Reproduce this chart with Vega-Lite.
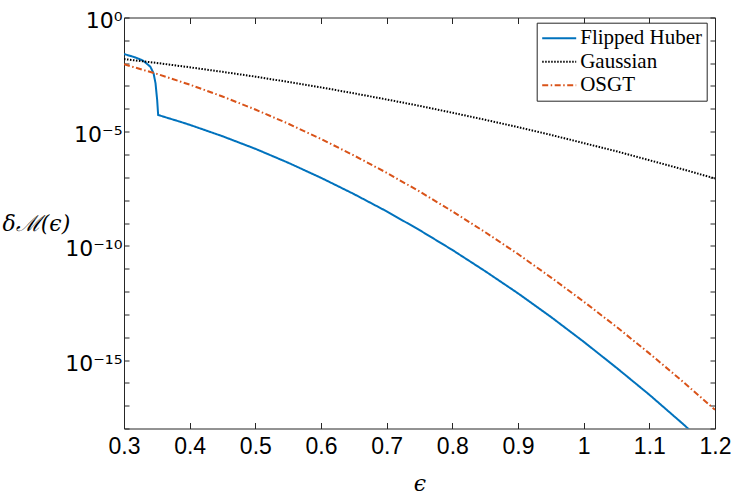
{
  "$schema": "https://vega.github.io/schema/vega-lite/v6.json",
  "width": 591,
  "height": 411,
  "autosize": {"type": "none"},
  "padding": {"left": 124, "top": 17.5, "right": 16, "bottom": 69.5},
  "background": "white",
  "config": {
    "view": {"stroke": null},
    "axis": {
      "grid": false,
      "domainColor": "#262626",
      "domainWidth": 1,
      "tickColor": "#262626",
      "tickWidth": 1,
      "labelColor": "#000000",
      "labelFont": "Liberation Sans",
      "labelFontSize": 23,
      "labelFlush": false,
      "labelOverlap": false
    },
    "legend": {
      "orient": "none",
      "legendX": 412.7,
      "legendY": 5.2,
      "title": null,
      "strokeColor": "#262626",
      "fillColor": "white",
      "padding": 4.5,
      "cornerRadius": 0,
      "symbolType": "stroke",
      "symbolSize": 1156,
      "symbolStrokeWidth": 2,
      "clipHeight": 22,
      "labelFont": "Liberation Serif",
      "labelFontSize": 21,
      "labelColor": "#000000",
      "labelOffset": 3,
      "rowPadding": 1.5
    }
  },
  "data": {
    "values": [
      {"eps": 0.300, "delta": 2.51e-2, "series": "Flipped Huber"},
      {"eps": 0.314, "delta": 1.91e-2, "series": "Flipped Huber"},
      {"eps": 0.322, "delta": 1.58e-2, "series": "Flipped Huber"},
      {"eps": 0.329, "delta": 1.29e-2, "series": "Flipped Huber"},
      {"eps": 0.340, "delta": 7.08e-3, "series": "Flipped Huber"},
      {"eps": 0.345, "delta": 3.63e-3, "series": "Flipped Huber"},
      {"eps": 0.348, "delta": 1.32e-3, "series": "Flipped Huber"},
      {"eps": 0.3505, "delta": 2.45e-4, "series": "Flipped Huber"},
      {"eps": 0.352, "delta": 5.37e-5, "series": "Flipped Huber"},
      {"eps": 0.385, "delta": 2.75e-5, "series": "Flipped Huber"},
      {"eps": 0.40, "delta": 2.00e-5, "series": "Flipped Huber"},
      {"eps": 0.45, "delta": 6.31e-6, "series": "Flipped Huber"},
      {"eps": 0.50, "delta": 1.78e-6, "series": "Flipped Huber"},
      {"eps": 0.55, "delta": 4.37e-7, "series": "Flipped Huber"},
      {"eps": 0.60, "delta": 9.55e-8, "series": "Flipped Huber"},
      {"eps": 0.65, "delta": 1.86e-8, "series": "Flipped Huber"},
      {"eps": 0.70, "delta": 3.24e-9, "series": "Flipped Huber"},
      {"eps": 0.75, "delta": 4.90e-10, "series": "Flipped Huber"},
      {"eps": 0.80, "delta": 6.61e-11, "series": "Flipped Huber"},
      {"eps": 0.85, "delta": 7.76e-12, "series": "Flipped Huber"},
      {"eps": 0.90, "delta": 8.32e-13, "series": "Flipped Huber"},
      {"eps": 0.95, "delta": 7.76e-14, "series": "Flipped Huber"},
      {"eps": 1.00, "delta": 6.31e-15, "series": "Flipped Huber"},
      {"eps": 1.05, "delta": 4.57e-16, "series": "Flipped Huber"},
      {"eps": 1.10, "delta": 3.02e-17, "series": "Flipped Huber"},
      {"eps": 1.15, "delta": 1.70e-18, "series": "Flipped Huber"},
      {"eps": 1.20, "delta": 8.51e-20, "series": "Flipped Huber"},
      {"eps": 0.30, "delta": 1.51e-2, "series": "Gaussian"},
      {"eps": 0.35, "delta": 1.02e-2, "series": "Gaussian"},
      {"eps": 0.40, "delta": 6.61e-3, "series": "Gaussian"},
      {"eps": 0.45, "delta": 4.17e-3, "series": "Gaussian"},
      {"eps": 0.50, "delta": 2.57e-3, "series": "Gaussian"},
      {"eps": 0.55, "delta": 1.51e-3, "series": "Gaussian"},
      {"eps": 0.60, "delta": 8.71e-4, "series": "Gaussian"},
      {"eps": 0.65, "delta": 4.79e-4, "series": "Gaussian"},
      {"eps": 0.70, "delta": 2.57e-4, "series": "Gaussian"},
      {"eps": 0.75, "delta": 1.35e-4, "series": "Gaussian"},
      {"eps": 0.80, "delta": 6.76e-5, "series": "Gaussian"},
      {"eps": 0.85, "delta": 3.31e-5, "series": "Gaussian"},
      {"eps": 0.90, "delta": 1.58e-5, "series": "Gaussian"},
      {"eps": 0.95, "delta": 7.24e-6, "series": "Gaussian"},
      {"eps": 1.00, "delta": 3.16e-6, "series": "Gaussian"},
      {"eps": 1.05, "delta": 1.38e-6, "series": "Gaussian"},
      {"eps": 1.10, "delta": 5.62e-7, "series": "Gaussian"},
      {"eps": 1.15, "delta": 2.29e-7, "series": "Gaussian"},
      {"eps": 1.20, "delta": 8.91e-8, "series": "Gaussian"},
      {"eps": 0.30, "delta": 8.91e-3, "series": "OSGT"},
      {"eps": 0.35, "delta": 3.39e-3, "series": "OSGT"},
      {"eps": 0.40, "delta": 1.15e-3, "series": "OSGT"},
      {"eps": 0.45, "delta": 3.47e-4, "series": "OSGT"},
      {"eps": 0.50, "delta": 9.33e-5, "series": "OSGT"},
      {"eps": 0.55, "delta": 2.24e-5, "series": "OSGT"},
      {"eps": 0.60, "delta": 4.79e-6, "series": "OSGT"},
      {"eps": 0.65, "delta": 9.12e-7, "series": "OSGT"},
      {"eps": 0.70, "delta": 1.58e-7, "series": "OSGT"},
      {"eps": 0.75, "delta": 2.40e-8, "series": "OSGT"},
      {"eps": 0.80, "delta": 3.24e-9, "series": "OSGT"},
      {"eps": 0.85, "delta": 3.98e-10, "series": "OSGT"},
      {"eps": 0.90, "delta": 4.37e-11, "series": "OSGT"},
      {"eps": 0.95, "delta": 4.17e-12, "series": "OSGT"},
      {"eps": 1.00, "delta": 3.63e-13, "series": "OSGT"},
      {"eps": 1.05, "delta": 2.82e-14, "series": "OSGT"},
      {"eps": 1.10, "delta": 1.95e-15, "series": "OSGT"},
      {"eps": 1.15, "delta": 1.20e-16, "series": "OSGT"},
      {"eps": 1.20, "delta": 6.61e-18, "series": "OSGT"}
    ]
  },
  "layer": [
    {
      "mark": {"type": "line", "strokeWidth": 2, "clip": true},
      "encoding": {
        "x": {
          "field": "eps",
          "type": "quantitative",
          "scale": {"domain": [0.3, 1.2], "nice": false, "zero": false},
          "axis": {
            "orient": "bottom",
            "values": [0.3, 0.4, 0.5, 0.6, 0.7, 0.8, 0.9, 1.0, 1.1, 1.2],
            "format": ".1~f",
            "tickSize": -6,
            "labelPadding": 13,
            "title": "ϵ",
            "titleFont": "DejaVu Serif",
            "titleFontStyle": "italic",
            "titleFontWeight": "normal",
            "titleFontSize": 22,
            "titleColor": "#000000",
            "titleX": 295.5,
            "titleY": 55,
            "titleBaseline": "middle"
          }
        },
        "y": {
          "field": "delta",
          "type": "quantitative",
          "scale": {"type": "log", "domain": [1e-18, 1], "nice": false},
          "axis": {
            "orient": "left",
            "values": [1, 1e-1, 1e-2, 1e-3, 1e-4, 1e-5, 1e-6, 1e-7, 1e-8, 1e-9, 1e-10, 1e-11, 1e-12, 1e-13, 1e-14, 1e-15, 1e-16, 1e-17, 1e-18],
            "labelExpr": "datum.value == 1 ? '10⁰' : datum.value == 1e-5 ? '10⁻⁵' : datum.value == 1e-10 ? '10⁻¹⁰' : datum.value == 1e-15 ? '10⁻¹⁵' : ''",
            "labelFont": "DejaVu Sans",
            "labelFontSize": 22,
            "labelOffset": 3,
            "tickSize": -5,
            "labelPadding": 7,
            "title": "δℳ(ϵ)",
            "titleFont": "DejaVu Serif",
            "titleFontStyle": "italic",
            "titleFontWeight": "normal",
            "titleFontSize": 22,
            "titleColor": "#000000",
            "titleAngle": 0,
            "titleAlign": "left",
            "titleBaseline": "middle",
            "titleX": -122,
            "titleY": 205.5
          }
        },
        "color": {
          "field": "series",
          "type": "nominal",
          "scale": {"domain": ["Flipped Huber", "Gaussian", "OSGT"], "range": ["#0072BD", "#000000", "#D95319"]}
        },
        "strokeDash": {
          "field": "series",
          "type": "nominal",
          "scale": {"domain": ["Flipped Huber", "Gaussian", "OSGT"], "range": [[1, 0], [1.5, 1.5], [6, 2.5, 1.5, 2.5]]}
        }
      }
    },
    {
      "mark": {"type": "line", "strokeOpacity": 0},
      "encoding": {
        "x": {
          "field": "eps",
          "type": "quantitative",
          "scale": {"domain": [0.3, 1.2], "nice": false, "zero": false},
          "axis": {
            "orient": "top",
            "values": [0.3, 0.4, 0.5, 0.6, 0.7, 0.8, 0.9, 1.0, 1.1, 1.2],
            "labels": false,
            "tickSize": -6,
            "title": null
          }
        },
        "y": {
          "field": "delta",
          "type": "quantitative",
          "scale": {"type": "log", "domain": [1e-18, 1], "nice": false},
          "axis": {
            "orient": "right",
            "values": [1, 1e-1, 1e-2, 1e-3, 1e-4, 1e-5, 1e-6, 1e-7, 1e-8, 1e-9, 1e-10, 1e-11, 1e-12, 1e-13, 1e-14, 1e-15, 1e-16, 1e-17, 1e-18],
            "labels": false,
            "tickSize": -5,
            "title": null
          }
        },
        "detail": {"field": "series", "type": "nominal"}
      }
    }
  ],
  "resolve": {"axis": {"x": "independent", "y": "independent"}}
}
